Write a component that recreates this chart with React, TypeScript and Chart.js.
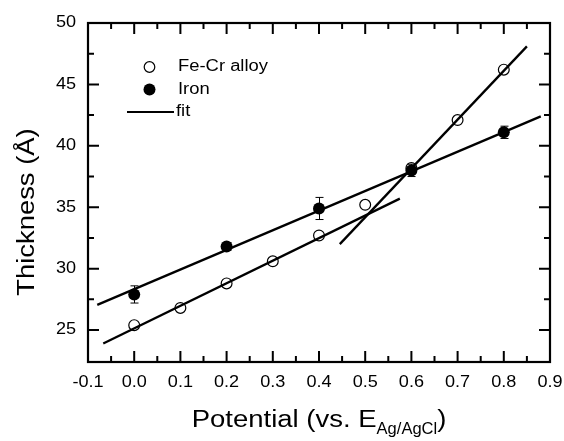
import React, { useEffect, useRef } from "react";
import { Chart, registerables } from "chart.js";

Chart.register(...registerables);

const potentials = [0.0, 0.1, 0.2, 0.3, 0.4, 0.5, 0.6, 0.7, 0.8];
const feCrThickness = [25.4, 26.8, 28.8, 30.6, 32.7, 35.2, 38.2, 42.1, 46.2];

const ironPotentials = [0.0, 0.2, 0.4, 0.6, 0.8];
const ironThickness = [27.9, 31.8, 34.9, 38.0, 41.1];
const ironErrors = [0.7, 0.3, 0.9, 0.5, 0.5];

const fitIronX = [-0.08, 0.88];
const fitIronY = [27.05, 42.4];
const fitLowX = [-0.067, 0.575];
const fitLowY = [23.9, 35.7];
const fitHighX = [0.445, 0.85];
const fitHighY = [32.0, 48.1];

const xTicks = [-0.1, 0.0, 0.1, 0.2, 0.3, 0.4, 0.5, 0.6, 0.7, 0.8, 0.9];
const yTicks = [25, 30, 35, 40, 45, 50];
const xMin = -0.1, xMax = 0.9, yMin = 22.4, yMax = 50;

const FONT = "'Liberation Sans', Arial, sans-serif";

const pts = (xs: number[], ys: number[]) => xs.map((x, i) => ({ x, y: ys[i] }));

function sText(ctx: CanvasRenderingContext2D, text: string, x: number, y: number, sx: number) {
  ctx.save();
  ctx.translate(x, y);
  ctx.scale(sx, 1);
  ctx.fillText(text, 0, 0);
  ctx.restore();
}

const decorPlugin = {
  id: "decor",
  afterDatasetsDraw(chart: any) {
    const ctx = chart.ctx;
    const xs = chart.scales.x;
    const ys = chart.scales.y;
    ctx.save();
    ctx.strokeStyle = "#000";
    ctx.lineWidth = 1;
    ironPotentials.forEach((p, i) => {
      const px = Math.round(xs.getPixelForValue(p)) + 0.5;
      const top = ys.getPixelForValue(ironThickness[i] + ironErrors[i]);
      const bot = ys.getPixelForValue(ironThickness[i] - ironErrors[i]);
      ctx.beginPath();
      ctx.moveTo(px, top);
      ctx.lineTo(px, bot);
      ctx.moveTo(px - 4, top);
      ctx.lineTo(px + 4, top);
      ctx.moveTo(px - 4, bot);
      ctx.lineTo(px + 4, bot);
      ctx.stroke();
    });
    ctx.restore();
  },
  afterDraw(chart: any) {
    const ctx = chart.ctx;
    const xs = chart.scales.x;
    const ys = chart.scales.y;
    const a = chart.chartArea;
    ctx.save();
    ctx.strokeStyle = "#000";
    ctx.lineWidth = 2.2;
    ctx.strokeRect(a.left, a.top, a.right - a.left, a.bottom - a.top);
    ctx.lineWidth = 2;
    const major = 11, minor = 6;
    for (let k = 0; k <= 20; k++) {
      const v = xMin + k * 0.05;
      const px = xs.getPixelForValue(v);
      const len = k % 2 === 0 ? major : minor;
      ctx.beginPath();
      ctx.moveTo(px, a.bottom);
      ctx.lineTo(px, a.bottom - len);
      ctx.moveTo(px, a.top);
      ctx.lineTo(px, a.top + len);
      ctx.stroke();
    }
    for (let v = 25; v <= 50; v += 2.5) {
      const py = ys.getPixelForValue(v);
      const len = (v % 5 === 0) ? major : minor;
      ctx.beginPath();
      ctx.moveTo(a.left, py);
      ctx.lineTo(a.left + len, py);
      ctx.moveTo(a.right, py);
      ctx.lineTo(a.right - len, py);
      ctx.stroke();
    }
    // tick labels
    ctx.fillStyle = "#000";
    ctx.font = `16px ${FONT}`;
    ctx.textAlign = "center";
    ctx.textBaseline = "middle";
    xTicks.forEach((v) => {
      sText(ctx, v.toFixed(1), xs.getPixelForValue(v), a.bottom + 20.5, 1.13);
    });
    ctx.textAlign = "right";
    yTicks.forEach((v) => {
      sText(ctx, String(v), a.left - 12, ys.getPixelForValue(v), 1.13);
    });
    // x title with subscript
    const mainS = 1.17;
    ctx.textBaseline = "alphabetic";
    ctx.textAlign = "left";
    const t1 = "Potential (vs. E";
    const sub = "Ag/AgCl";
    const t2 = ")";
    ctx.font = `23.5px ${FONT}`;
    const w1 = ctx.measureText(t1).width * mainS;
    const w3 = ctx.measureText(t2).width * mainS;
    ctx.font = `16.5px ${FONT}`;
    const w2 = ctx.measureText(sub).width;
    const total = w1 + w2 + w3;
    const cx = (a.left + a.right) / 2;
    const sx = cx - total / 2;
    const base = 427;
    ctx.font = `23.5px ${FONT}`;
    sText(ctx, t1, sx, base, mainS);
    ctx.font = `16.5px ${FONT}`;
    ctx.fillText(sub, sx + w1, base + 7);
    ctx.font = `23.5px ${FONT}`;
    sText(ctx, t2, sx + w1 + w2, base, mainS);
    // y title
    ctx.save();
    ctx.translate(28, 212);
    ctx.rotate(-Math.PI / 2);
    ctx.textAlign = "center";
    ctx.textBaseline = "middle";
    ctx.font = `23px ${FONT}`;
    sText(ctx, "Thickness (Å)", 0, 0, 1.19);
    ctx.restore();
    // legend
    ctx.font = `16px ${FONT}`;
    ctx.textAlign = "left";
    ctx.textBaseline = "middle";
    ctx.lineWidth = 1.2;
    ctx.beginPath();
    ctx.arc(149.5, 67, 5.3, 0, Math.PI * 2);
    ctx.stroke();
    sText(ctx, "Fe-Cr alloy", 178, 67, 1.15);
    ctx.beginPath();
    ctx.arc(149.5, 89.5, 6, 0, Math.PI * 2);
    ctx.fill();
    sText(ctx, "Iron", 178, 90, 1.15);
    ctx.lineWidth = 2.2;
    ctx.beginPath();
    ctx.moveTo(127, 112);
    ctx.lineTo(174, 112);
    ctx.stroke();
    sText(ctx, "fit", 176, 112, 1.15);
    ctx.restore();
  },
};

export default function App() {
  const ref = useRef<HTMLCanvasElement>(null);
  useEffect(() => {
    document.body.style.margin = "0";
    const lineDs = (xs: number[], ys: number[]) => ({
      type: "scatter" as const,
      data: pts(xs, ys),
      showLine: true,
      borderColor: "#000",
      borderWidth: 2.3,
      pointRadius: 0,
      fill: false,
    });
    const chart = new Chart(ref.current!, {
      type: "scatter",
      data: {
        datasets: [
          lineDs(fitIronX, fitIronY),
          lineDs(fitLowX, fitLowY),
          lineDs(fitHighX, fitHighY),
          {
            data: pts(potentials, feCrThickness),
            pointRadius: 5.4,
            pointBorderWidth: 1.2,
            pointBorderColor: "#000",
            pointBackgroundColor: "rgba(0,0,0,0)",
            showLine: false,
          },
          {
            data: pts(ironPotentials, ironThickness),
            pointRadius: 6,
            pointBorderWidth: 0,
            pointBackgroundColor: "#000",
            pointBorderColor: "#000",
            showLine: false,
          },
        ],
      },
      options: {
        animation: false,
        responsive: false,
        layout: { padding: { left: 88, right: 14, top: 23, bottom: 79 } },
        plugins: { legend: { display: false }, tooltip: { enabled: false } },
        scales: {
          x: { type: "linear", min: xMin, max: xMax, display: false },
          y: { type: "linear", min: yMin, max: yMax, display: false },
        },
      },
      plugins: [decorPlugin],
    });
    return () => chart.destroy();
  }, []);
  return (
    <div style={{ width: 564, height: 441 }}>
      <canvas ref={ref} width={564} height={441} />
    </div>
  );
}
